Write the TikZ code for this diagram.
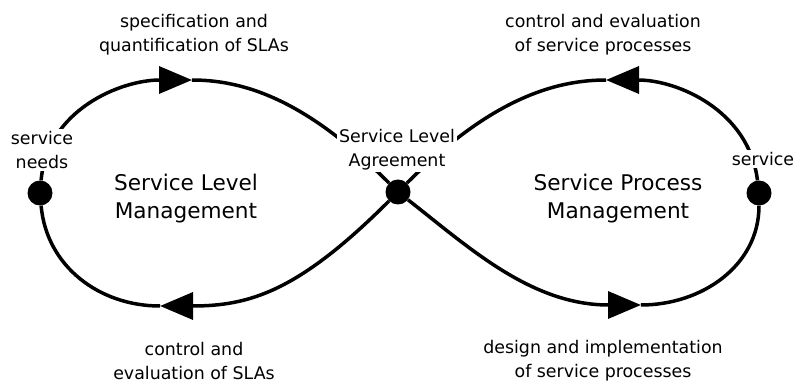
\documentclass[tikz,border=0pt]{standalone}
\usepackage{fontspec}
\setmainfont{DejaVu Sans}
\usetikzlibrary{arrows.meta,backgrounds}
\tikzset{
  loopline/.style={line width=3.5pt},
  flow/.style={loopline,-{Triangle[length=33pt,width=27pt]}},
  dot/.style={circle,fill=black,minimum size=25pt,inner sep=0pt},
  lbl/.style={align=center,font=\fontsize{17.4}{24}\selectfont,fill=white,inner sep=2pt},
  title/.style={align=center,font=\fontsize{21.6}{28}\selectfont},
}
\begin{document}
\begin{tikzpicture}[x=1pt,y=1pt]
\useasboundingbox (0,0) rectangle (795,383);

% junctions
\node[dot] (needs) at (40,190) {};
\node[dot] (sla) at (398,191) {};
\node[dot] (serv) at (759,190) {};

% arrow tips
\coordinate (specTip) at (192,303);
\coordinate (procTip) at (606,303);
\coordinate (designTip) at (641,78);
\coordinate (evalTip) at (160,77);

% labels
\node[lbl] (specLbl) at (194,348) {specification and\\quantification of SLAs};
\node[lbl] (evalLbl) at (194,22) {control and\\evaluation of SLAs};
\node[lbl] (ctrlLbl) at (603,348) {control and evaluation\\of service processes};
\node[lbl] (designLbl) at (603,22) {design and implementation\\of service processes};
\node[lbl] (needsLbl) at (42,233) {service\\needs};
\node[lbl] (slaLbl) at (397,233) {Service Level\\Agreement};
\node[lbl] (servLbl) at (763,224) {service};
\node[title] (slm) at (186,184) {Service Level\\Management};
\node[title] (spm) at (618,184) {Service Process\\Management};

\begin{pgfonlayer}{background}
\draw[flow] (needs) to[out=85,in=180] (specTip);
\draw[loopline] (specTip) .. controls +(60,0) and +(135:120) .. (sla);
\draw[flow] (sla) .. controls +(-38:90) and +(-110,0) .. (designTip);
\draw[loopline] (designTip) to[out=0,in=-90] (serv);
\draw[flow] (serv) to[out=97,in=0] (procTip);
\draw[loopline] (procTip) .. controls +(-60,0) and +(45:120) .. (sla);
\draw[flow] (sla) .. controls +(-135:140) and +(90,0) .. (evalTip);
\draw[loopline] (evalTip) to[out=180,in=-85] (needs);
\end{pgfonlayer}
\end{tikzpicture}
\end{document}
